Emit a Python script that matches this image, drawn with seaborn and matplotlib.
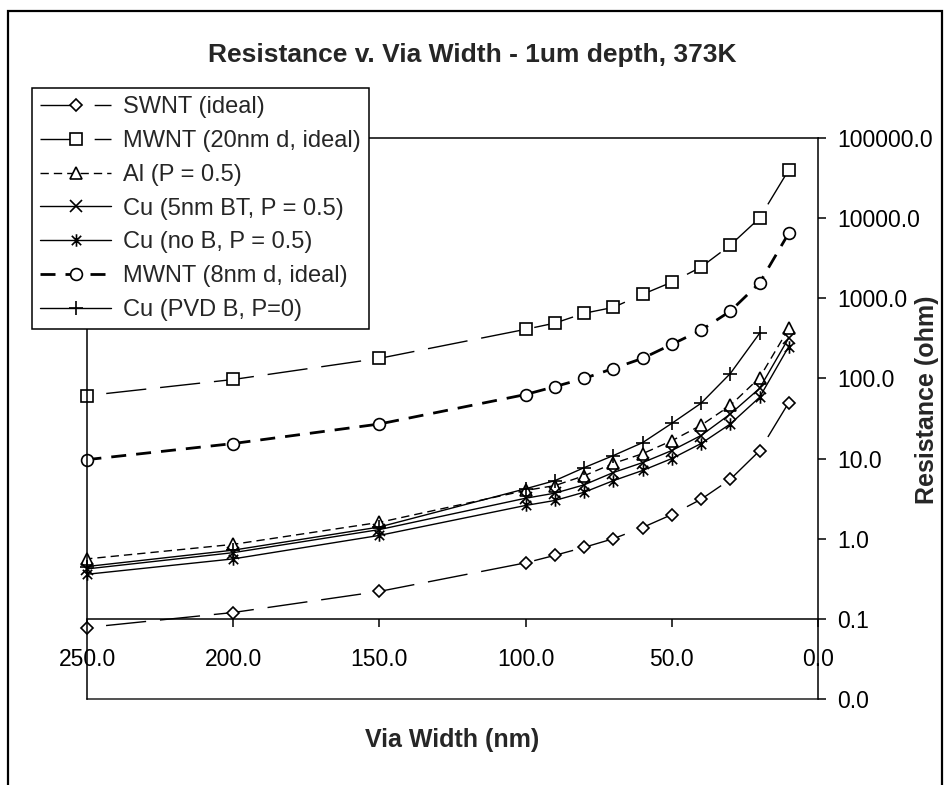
import numpy as np
import pandas as pd
import seaborn as sns
from matplotlib import pyplot as plt
from matplotlib.lines import Line2D
from matplotlib.patches import Rectangle
from matplotlib.path import Path
from matplotlib.ticker import FixedLocator, FormatStrFormatter, NullLocator

# Data (resistance in ohm vs via width in nm)
widths = [250, 200, 150, 100, 90, 80, 70, 60, 50, 40, 30, 20, 10]

swnt = [0.078, 0.12, 0.22, 0.5, 0.62, 0.78, 1.0, 1.38, 2.0, 3.1, 5.5, 12.5, 50]
mwnt_20 = [61, 97, 178, 410, 490, 650, 770, 1120, 1590, 2450, 4600, 10000, 40000]
al = [0.56, 0.85, 1.6, 4.0, 4.6, 6.1, 8.7, 11.5, 16.7, 26, 46, 102, 420]
cu_bt = [0.42, 0.67, 1.3, 3.2, 3.7, 4.7, 6.7, 8.9, 12.6, 19.4, 36, 75, 320]
cu_nob = [0.36, 0.56, 1.1, 2.6, 3.0, 3.8, 5.3, 7.1, 10.0, 15.4, 27, 58, 250]
mwnt_8 = [9.7, 15.4, 27, 63, 79, 100, 133, 178, 266, 400, 690, 1550, 6500]
cu_pvd = [0.45, 0.72, 1.4, 4.2, 5.3, 7.7, 10.9, 15.8, 27.5, 49, 115, 365, np.nan]

labels = ["SWNT (ideal)", "MWNT (20nm d, ideal)", "Al (P = 0.5)",
          "Cu (5nm BT, P = 0.5)", "Cu (no B, P = 0.5)",
          "MWNT (8nm d, ideal)", "Cu (PVD B, P=0)"]
series = [swnt, mwnt_20, al, cu_bt, cu_nob, mwnt_8, cu_pvd]

rows = []
for name, vals in zip(labels, series):
    for w, r in zip(widths, vals):
        rows.append({"width": w, "resistance": r, "series": name})
df = pd.DataFrame(rows).dropna()

# Excel-like asterisk marker
star = Path([(0, -1), (0, 1), (-0.75, -0.75), (0.75, 0.75), (-0.75, 0.75), (0.75, -0.75)],
            [Path.MOVETO, Path.LINETO] * 3)

long_dash = (0, (29, 10))
styles = {
    "SWNT (ideal)": dict(marker="D", ms=6.5, ls=long_dash, lw=1.0, fc="white"),
    "MWNT (20nm d, ideal)": dict(marker="s", ms=9, ls=long_dash, lw=1.0, fc="white"),
    "Al (P = 0.5)": dict(marker="^", ms=8, ls=(0, (6, 3.6)), lw=1.0, fc="white"),
    "Cu (5nm BT, P = 0.5)": dict(marker="x", ms=8, ls="-", lw=1.0, fc="none"),
    "Cu (no B, P = 0.5)": dict(marker=star, ms=9, ls="-", lw=1.0, fc="none"),
    "MWNT (8nm d, ideal)": dict(marker="o", ms=8.5, ls=(0, (5.4, 3.6)), lw=2.0, fc="white"),
    "Cu (PVD B, P=0)": dict(marker="+", ms=9.5, ls="-", lw=1.0, fc="none"),
}

sns.set_theme(style="ticks")
plt.rcParams['font.family'] = ['Liberation Sans', 'DejaVu Sans']

fig = plt.figure(figsize=(9.47, 7.85), dpi=100)
ax = fig.add_axes([87 / 947, 1 - 699 / 785, (818 - 87) / 947, (699 - 138) / 785])

for name in labels:
    st = styles[name]
    sns.lineplot(data=df[df["series"] == name], x="width", y="resistance", ax=ax,
                 estimator=None, errorbar=None, color="black",
                 linestyle=st["ls"], linewidth=st["lw"], marker=st["marker"],
                 markersize=st["ms"], markerfacecolor=st["fc"], markeredgecolor="black",
                 markeredgewidth=1.2, label=name, clip_on=False)

ax.set_yscale("log")
ax.set_ylim(0.01, 100000)
ax.set_xlim(250, 0)

ax.xaxis.set_major_locator(FixedLocator([250, 200, 150, 100, 50, 0]))
ax.xaxis.set_major_formatter(FormatStrFormatter("%.1f"))
ax.yaxis.set_major_locator(FixedLocator([0.01, 0.1, 1, 10, 100, 1000, 10000, 100000]))
ax.yaxis.set_major_formatter(FormatStrFormatter("%.1f"))
ax.yaxis.set_minor_locator(NullLocator())
ax.xaxis.set_minor_locator(NullLocator())

ax.yaxis.tick_right()
ax.tick_params(axis="y", which="major", right=True, left=False, direction="out",
               length=6, width=1.1, pad=8, labelsize=16.5, colors="black")
ax.tick_params(axis="x", which="major", bottom=True, direction="out",
               length=6, width=1.1, pad=15, labelsize=16.5, colors="black")

for side in ["left", "right", "top", "bottom"]:
    ax.spines[side].set_visible(True)
    ax.spines[side].set_color("black")
    ax.spines[side].set_linewidth(1.1)
ax.spines["bottom"].set_position(("data", 0.1))
ax.set_xlabel("")
ax.set_ylabel("")

# plot area bottom border
ax.add_line(Line2D([0, 1], [0, 0], transform=ax.transAxes, color="#333333",
                   lw=1.2, clip_on=False))

leg = ax.legend(loc="upper left", bbox_to_anchor=(32 / 947, 1 - 88 / 785),
                bbox_transform=fig.transFigure, fontsize=17, frameon=True,
                fancybox=False, framealpha=1, edgecolor="black", borderpad=0.35,
                labelspacing=0.5, handlelength=3.0, handletextpad=0.5,
                borderaxespad=0)
leg.get_frame().set_linewidth(1.1)

fig.text(472 / 947, 1 - 55 / 785, "Resistance v. Via Width - 1um depth, 373K",
         ha="center", va="center", fontsize=19, fontweight="bold")
fig.text(452 / 947, 1 - 740 / 785, "Via Width (nm)", ha="center", va="center",
         fontsize=18, fontweight="bold")
fig.text(927 / 947, 1 - 400 / 785, "Resistance (ohm)", ha="center", va="center",
         rotation=90, fontsize=18, fontweight="bold")

# outer chart frame
fig.patches.append(Rectangle((8 / 947, -0.02), (942 - 8) / 947, 1 - 11 / 785 + 0.02,
                             transform=fig.transFigure, fill=False, lw=1.6,
                             edgecolor="black"))

fig.savefig("out.png", dpi=100, facecolor="white")
